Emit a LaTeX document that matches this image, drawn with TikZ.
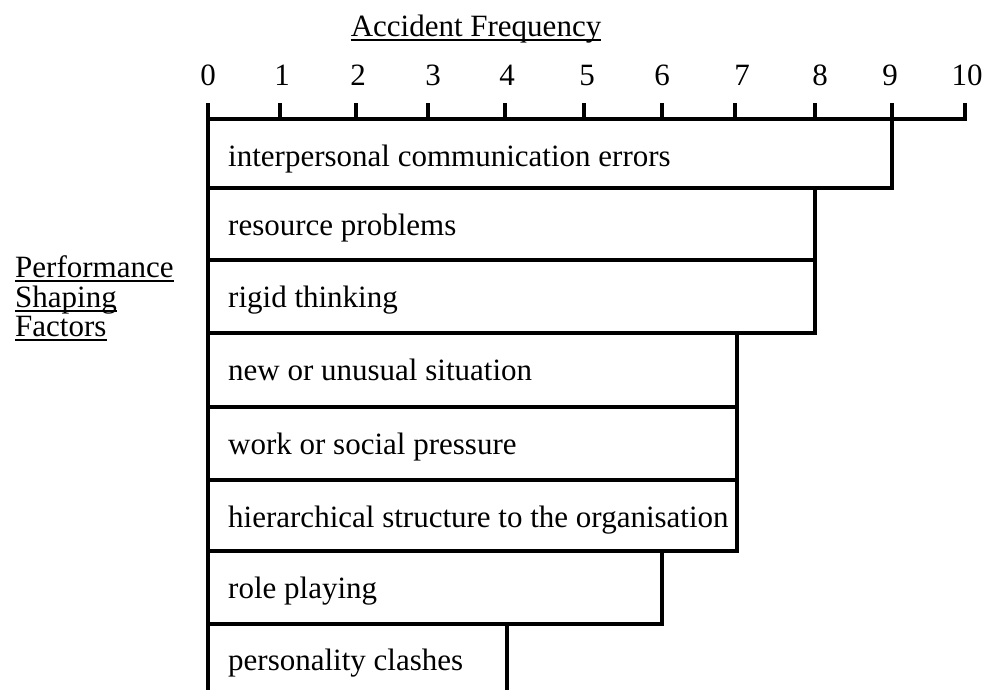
\documentclass[tikz,border=0pt]{standalone}
\usepackage{fontspec}
\setmainfont{Liberation Serif}
\begin{document}
\begin{tikzpicture}[x=1pt,y=-1pt,
  rule/.style={line width=3.2pt, line cap=rect},
  uline/.style={line width=1.8pt},
  txt/.style={inner sep=0pt, font=\fontsize{31}{36}\selectfont},
  barlabel/.style={txt, anchor=base west},
  ticklabel/.style={txt, anchor=base}]
  \useasboundingbox (0,0) rectangle (995,689);

  % axis title
  \node[txt, anchor=base] (title) at (476,36) {Accident Frequency};
  \draw[uline] ([yshift=-4pt]title.base west) -- ([yshift=-4pt]title.base east);

  % side title
  \node[barlabel] (psf1) at (15,277) {Performance};
  \node[barlabel] (psf2) at (15,307) {Shaping};
  \node[barlabel] (psf3) at (15,336) {Factors};
  \foreach \n in {psf1,psf2,psf3}
    \draw[uline] ([yshift=-4pt]\n.base west) -- ([yshift=-4pt]\n.base east);

  % scale: tick position / label position / value
  \foreach \tx/\lx/\v in {208/208/0, 280/282/1, 356/358/2, 428/433/3, 505/507/4,
                          584/587/5, 662/662/6, 735/742/7, 815/820/8, 892/890/9, 965/967/10} {
    \node[ticklabel] (t\v) at (\lx,85) {\v};
    \draw[rule] (\tx,119) -- (\tx,105);
  }
  \draw[rule] (208,119) -- (965,119);

  % baseline of the bars
  \draw[rule] (208,105) -- (208,689);

  % bars: top / bottom / right end / label
  \foreach \i/\top/\bot/\xend/\lab in {
      1/119/188/892/interpersonal communication errors,
      2/188/260/815/resource problems,
      3/260/333/815/rigid thinking,
      4/333/407/737/new or unusual situation,
      5/407/480/737/work or social pressure,
      6/480/551/737/hierarchical structure to the organisation,
      7/551/624/662/role playing} {
    \draw[rule] (\xend,\top) |- (208,\bot);
    \node[barlabel] (bar\i) at (228,\top+47) {\lab};
  }
  \draw[rule] (507,624) -- (507,689);
  \node[barlabel] (bar8) at (228,670) {personality clashes};
\end{tikzpicture}
\end{document}
